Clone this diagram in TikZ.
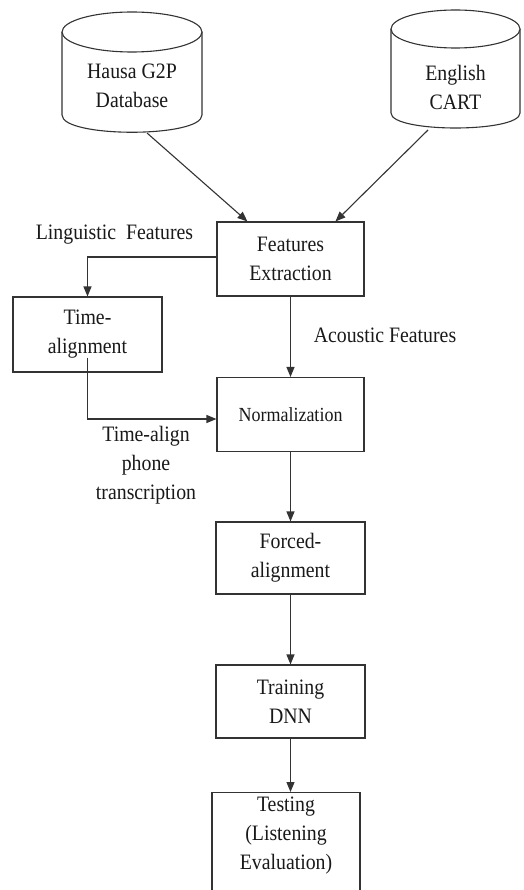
\documentclass[tikz,border=0pt]{standalone}
\usepackage{fontspec}
\setmainfont{Liberation Serif}[FakeStretch=0.9]
\usetikzlibrary{arrows.meta,calc}
\begin{document}
\begin{tikzpicture}[x=1pt,y=1pt,
  every node/.style={font=\fontsize{22}{29}\selectfont, text=black!90},
  line/.style={draw=black!80, line width=1.1pt},
  flow/.style={line, -{Triangle[length=10pt,width=8pt]}},
  stepbox/.style={line, draw, rectangle, minimum width=147pt, minimum height=74pt,
    align=center, inner sep=0pt},
  cyl/.style={line, fill=white},
  lbl/.style={align=center, inner sep=0pt}]
\useasboundingbox (0,0) rectangle (523,-890);
\clip (0,0) rectangle (523,-890);
\fill[white] (0,0) rectangle (523,-890);

% database cylinders
\draw[cyl] (62,-32) -- (62,-115) .. controls (62,-138) and (202,-138) .. (202,-115) -- (202,-32);
\draw[cyl] (132,-32) ellipse [x radius=70pt, y radius=20pt];
\node[lbl] (hausa) at (132,-86) {Hausa G2P\\Database};
\coordinate (hausaB) at (147,-133);

\draw[cyl] (391,-29) -- (391,-113) .. controls (391,-133) and (520,-133) .. (520,-113) -- (520,-29);
\draw[cyl] (455.5,-29) ellipse [x radius=64.5pt, y radius=19pt];
\node[lbl] (english) at (455.5,-87) {English\\CART};
\coordinate (englishB) at (428,-130);

% processing steps
\node[stepbox] (fe) at (290.5,-259) {Features\\Extraction};
\node[stepbox, minimum width=149pt, minimum height=75pt] (ta) at (87.5,-334.5) {Time-\\alignment};
\node[stepbox, font=\fontsize{20}{24}\selectfont] (norm) at (290.5,-414.5) {Normalization};
\node[stepbox, minimum width=149pt, minimum height=72pt] (fa) at (290.5,-558) {Forced-\\alignment};
\node[stepbox, minimum width=149pt, minimum height=73pt] (train) at (290.5,-701.5) {Training\\DNN};
\node[line, draw, rectangle, anchor=north, minimum width=148pt, minimum height=115pt, inner sep=0pt] (test) at (286,-792) {};
\node[lbl] (testT) at (286,-836) {Testing\\(Listening\\Evaluation)};

% edge labels
\node[lbl] (ling) at (114.5,-235) {Linguistic\ \ Features};
\node[lbl] (acou) at (385,-335) {Acoustic Features};
\node[lbl] (tapt) at (146,-465) {Time-align\\phone\\transcription};

% connectors
\coordinate (feL) at ($(fe.north west)+(31,0)$);
\coordinate (feR) at ($(fe.north west)+(119,0)$);
\draw[flow] (hausaB) -- (feL);
\draw[flow] (englishB) -- (feR);
\draw[flow] ($(fe.west)+(0,2)$) -| (ta.north);
\coordinate (taOut) at ($(ta.south)+(0,15)$);
\coordinate (normIn) at ($(norm.west)+(0,-4.5)$);
\draw[flow] (taOut) |- (normIn);
\draw[flow] (fe.south) -- (norm.north);
\draw[flow] (norm.south) -- (fa.north);
\draw[flow] (fa.south) -- (train.north);
\draw[flow] (train.south) -- (train.south |- test.north);
\end{tikzpicture}
\end{document}
